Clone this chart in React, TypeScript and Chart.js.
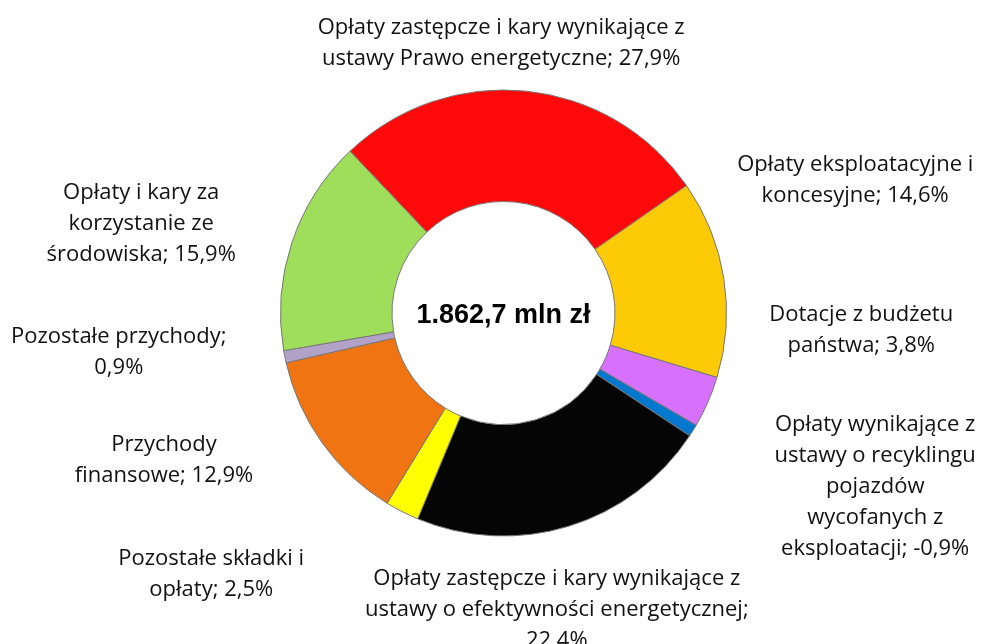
import React, { useEffect, useRef } from "react";
import { Chart, registerables } from "chart.js";

Chart.register(...registerables);

const categories = [
  "Opłaty zastępcze i kary wynikające z ustawy Prawo energetyczne",
  "Opłaty eksploatacyjne i koncesyjne",
  "Dotacje z budżetu państwa",
  "Opłaty wynikające z ustawy o recyklingu pojazdów wycofanych z eksploatacji",
  "Opłaty zastępcze i kary wynikające z ustawy o efektywności energetycznej",
  "Pozostałe składki i opłaty",
  "Przychody finansowe",
  "Pozostałe przychody",
  "Opłaty i kary za korzystanie ze środowiska",
];
const shares = [27.9, 14.6, 3.8, -0.9, 22.4, 2.5, 12.9, 0.9, 15.9];
const colors = [
  "#FE0A0A",
  "#FDCA07",
  "#D770FB",
  "#0477CF",
  "#050505",
  "#FFFF00",
  "#F07512",
  "#B3A2C7",
  "#9FDE5A",
];
const totalLabel = "1.862,7 mln zł";
// words per line for each label
const lineBreaks = [[6, 4], [3, 2], [3, 2], [3, 3, 1, 2, 2], [6, 4, 1], [3, 2], [1, 2], [2, 1], [4, 2, 2]];
// label placement: angle (deg, clockwise from top) and distance as multiple of outer radius
const labelAngle = [-0.5, 69.3, 92.7, 115.0, 169.8, 228.2, 246.5, 264.2, 283.8];
const labelDist = [1.208, 1.686, 1.606, 1.839, 1.35, 1.758, 1.66, 1.734, 1.673];

const fmt = (v: number) => v.toFixed(1).replace(".", ",") + "%";

function labelLines(i: number): string[] {
  const words = `${categories[i]}; ${fmt(shares[i])}`.split(" ");
  const out: string[] = [];
  let k = 0;
  for (const n of lineBreaks[i]) {
    out.push(words.slice(k, k + n).join(" "));
    k += n;
  }
  return out;
}

const labelPlugin = {
  id: "outerLabels",
  afterDraw(chart: any) {
    const ctx = chart.ctx;
    const meta = chart.getDatasetMeta(0);
    const arc0 = meta.data[0];
    if (!arc0) return;
    const cx = arc0.x;
    const cy = arc0.y;
    const R = arc0.outerRadius;
    ctx.save();
    ctx.fillStyle = "#000";
    ctx.textAlign = "center";
    ctx.textBaseline = "middle";
    ctx.font = "bold 27px 'Liberation Sans', Arial, sans-serif";
    ctx.fillText(totalLabel, cx, cy + 3);
    ctx.font = "22px 'Open Sans', Lato, sans-serif";
    ctx.fillStyle = "#111";
    const lh = 31;
    for (let i = 0; i < categories.length; i++) {
      const a = ((labelAngle[i] - 90) * Math.PI) / 180;
      const x = cx + Math.cos(a) * R * labelDist[i];
      const y = cy + Math.sin(a) * R * labelDist[i];
      const lines = labelLines(i);
      const y0 = y - ((lines.length - 1) * lh) / 2;
      lines.forEach((ln, j) => ctx.fillText(ln, x, y0 + j * lh));
    }
    ctx.restore();
  },
};

export default function App() {
  const ref = useRef<HTMLCanvasElement>(null);
  useEffect(() => {
    document.body.style.margin = "0";
    const chart = new Chart(ref.current!, {
      type: "doughnut",
      data: {
        labels: categories,
        datasets: [
          {
            data: shares,
            backgroundColor: colors,
            borderColor: "#777777",
            borderWidth: 1,
          },
        ],
      },
      options: {
        animation: false,
        responsive: false,
        cutout: "50%",
        rotation: -43.5,
        layout: { padding: { top: 89.5, bottom: 107.5, left: 24, right: 0 } },
        plugins: { legend: { display: false }, tooltip: { enabled: false } },
      },
      plugins: [labelPlugin],
    });
    return () => chart.destroy();
  }, []);
  return (
    <div style={{ width: 983, height: 644, background: "#fff" }}>
      <canvas ref={ref} width={983} height={644} style={{ display: "block" }} />
    </div>
  );
}
